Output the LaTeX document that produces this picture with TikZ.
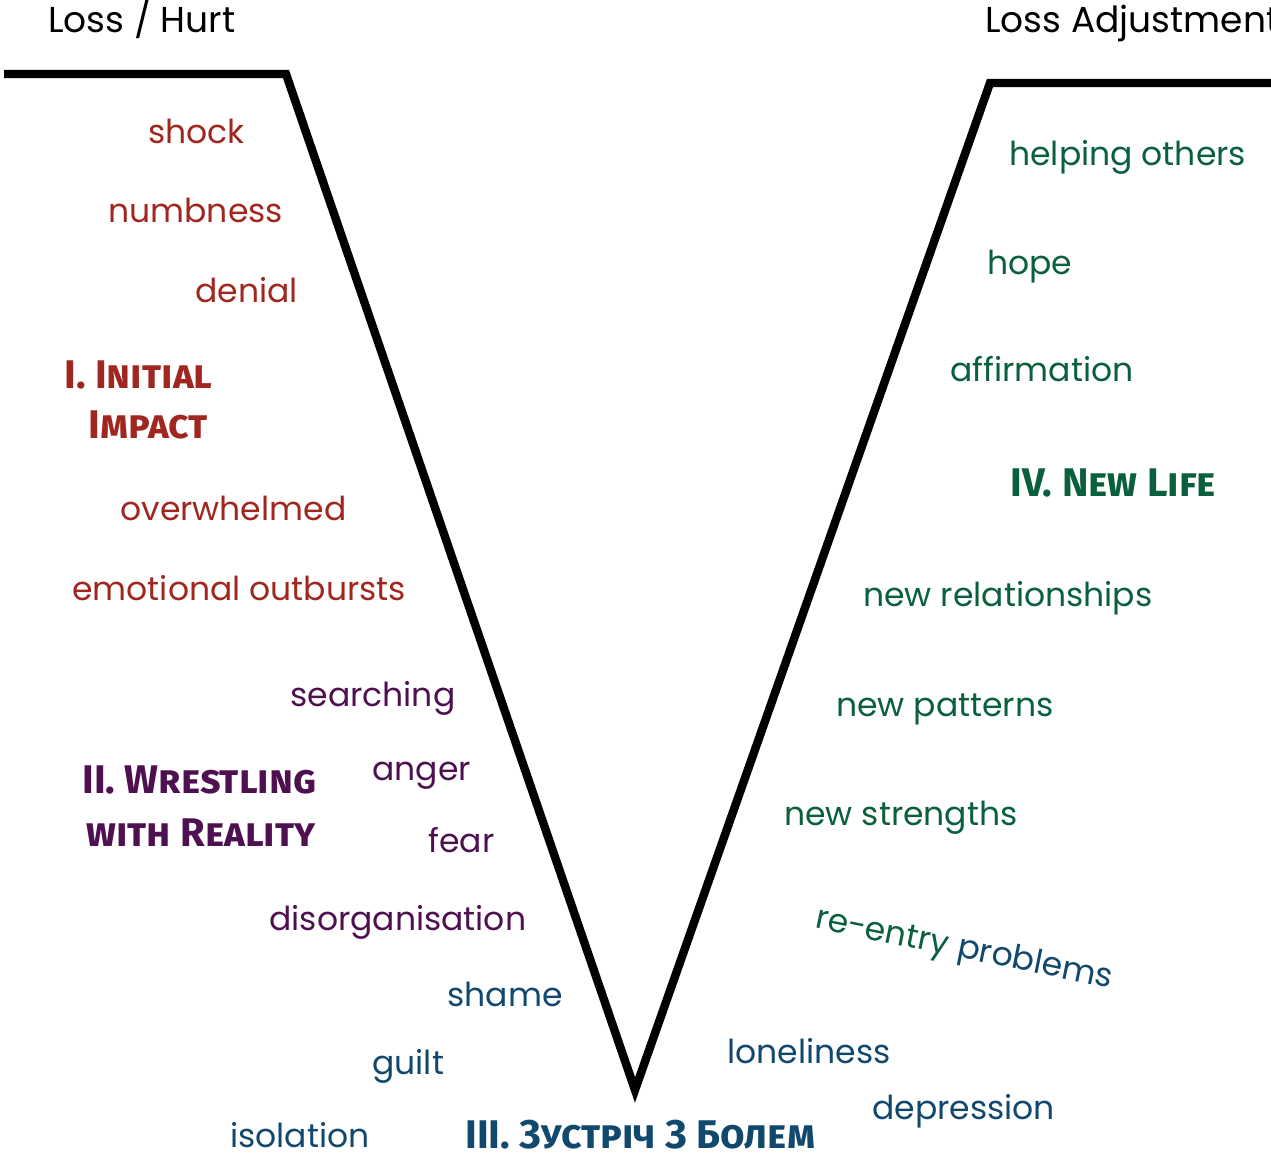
\documentclass[tikz,border=0pt]{standalone}
\usepackage{fontspec}
\setmainfont{Poppins}
\newfontfamily\headfont{Fira Sans}[Letters=SmallCaps]
\usetikzlibrary{positioning}

\definecolor{impactred}{RGB}{160,38,32}
\definecolor{wrestlepurple}{RGB}{78,16,80}
\definecolor{painblue}{RGB}{16,72,110}
\definecolor{lifegreen}{RGB}{10,95,60}

\tikzset{
  word/.style={anchor=west,inner sep=0pt,text height=12pt,text depth=0pt,
    font=\fontsize{16.5}{18}\selectfont},
  endlabel/.style={word,font=\fontsize{18}{20}\selectfont},
  stagehead/.style={anchor=west,inner sep=0pt,align=left,
    font=\headfont\bfseries\fontsize{20}{26}\selectfont},
  vline/.style={line width=4.2pt,line join=miter}
}

\begin{document}
\begin{tikzpicture}[x=0.5pt,y=-0.5pt]
  \useasboundingbox (0,0) rectangle (1271,1157);
  \clip (0,0) rectangle (1271,1157);

  %% The V curve
  \coordinate (LS) at (4,74);
  \coordinate (LE) at (286,74);
  \coordinate (BOT) at (635,1090);
  \coordinate (RE) at (990,83);
  \coordinate (RS) at (1271,83);
  \draw[vline] (LS) -- (LE) -- (BOT) -- (RE) -- (RS);

  %% Ends of the curve
  \node[endlabel] (HURT) at (48,20) {Loss / Hurt};
  \node[endlabel] (ADJ) at (985,20) {Loss Adjustment};

  %% I. Initial impact
  \node[word,text=impactred] (SHOCK) at (148,131) {shock};
  \node[word,text=impactred] (NUMB) at (108,210) {numbness};
  \node[word,text=impactred] (DENIAL) at (195,290) {denial};
  \node[stagehead,text=impactred] (HEADI) at (64,375) {I. Initial};
  \node[stagehead,text=impactred] (HEADIb) at (88,425) {Impact};
  \node[word,text=impactred] (OVER) at (120,508) {overwhelmed};
  \node[word,text=impactred] (OUTB) at (72,588) {emotional outbursts};

  %% II. Wrestling with reality
  \node[word,text=wrestlepurple] (SEARCH) at (290,694) {searching};
  \node[word,text=wrestlepurple] (ANGER) at (372,768) {anger};
  \node[stagehead,text=wrestlepurple] (HEADII) at (82,780) {II. Wrestling};
  \node[stagehead,text=wrestlepurple] (HEADIIb) at (86,833) {with Reality};
  \node[word,text=wrestlepurple] (FEAR) at (428,840) {fear};
  \node[word,text=wrestlepurple] (DISORG) at (269,918) {disorganisation};

  %% III. Meeting the pain
  \node[word,text=painblue] (SHAME) at (447,994) {shame};
  \node[word,text=painblue] (GUILT) at (372,1062) {guilt};
  \node[word,text=painblue] (ISOL) at (230,1135) {isolation};
  \node[stagehead,text=painblue] (HEADIII) at (465,1135) {III. Зустріч З Болем};
  \node[word,text=painblue] (LONELY) at (727,1051) {loneliness};
  \node[word,text=painblue] (DEPR) at (872,1107) {depression};
  \node[word,rotate=-11.5,text=lifegreen] (REENTRY) at (816,916) {re-entry};
  \node[word,rotate=-11.5,text=painblue] (PROBLEMS) at (REENTRY.east) {\ problems};

  %% IV. New life
  \node[word,text=lifegreen] (STRENGTH) at (784,813) {new strengths};
  \node[word,text=lifegreen] (PATTERN) at (836,704) {new patterns};
  \node[word,text=lifegreen] (RELAT) at (863,594) {new relationships};
  \node[stagehead,text=lifegreen] (HEADIV) at (1010,483) {IV. New Life};
  \node[word,text=lifegreen] (AFFIRM) at (950,369) {affirmation};
  \node[word,text=lifegreen] (HOPE) at (987,262) {hope};
  \node[word,text=lifegreen] (HELP) at (1009,153) {helping others};
\end{tikzpicture}
\end{document}
